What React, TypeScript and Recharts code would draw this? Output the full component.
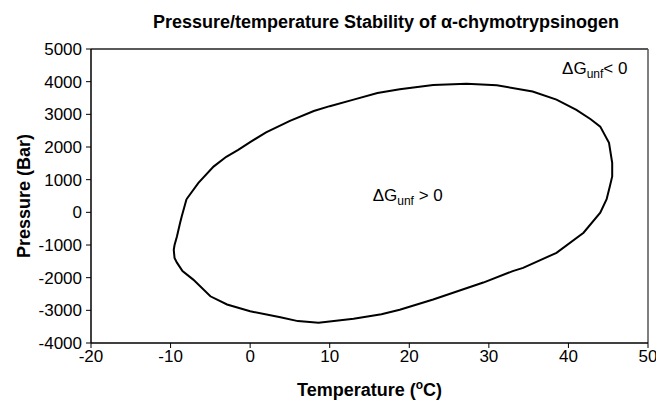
import { LineChart, Line, XAxis, YAxis, ReferenceLine, ReferenceDot } from 'recharts';

// stability boundary, traced clockwise from the corner on the left
const temperature = [
  -8.0, -6.5, -4.6, -3.0, -1.5, 0, 2, 5, 8, 10, 13, 16, 18.8, 23, 27.2, 31, 35.5, 38.5, 41, 42.8, 44,
  45.1, 45.5, 45.5, 45.2, 44.8, 44, 41.9, 38.5, 34.3, 33, 29.3, 23, 18.8, 16.5, 13, 8.6, 6, 3.8, 0,
  -2.9, -5, -7.15, -8.5, -9.2, -9.5, -9.6, -9.5, -9.2, -8.8, -8.6, -8.0,
];
const pressure = [
  400, 900, 1400, 1700, 1910, 2150, 2450, 2800, 3100, 3250, 3450, 3650, 3770, 3900, 3940, 3890, 3700,
  3450, 3135, 2850, 2625, 2130, 1516, 1100, 790, 400, -10, -625, -1240, -1700, -1800, -2150, -2670,
  -2980, -3120, -3260, -3380, -3330, -3210, -3030, -2820, -2570, -2060, -1800, -1540, -1400, -1150,
  -1000, -740, -320, -125, 400,
];
const xTicks = [-20, -10, 0, 10, 20, 30, 40, 50];
const yTicks = [-4000, -3000, -2000, -1000, 0, 1000, 2000, 3000, 4000, 5000];

const stableNote = { t: 15.4, p: 540, sign: '> 0' };
const unstableNote = { t: 39.2, p: 4420, sign: '< 0' };

const data = temperature.map((t, i) => ({ t, p: pressure[i] }));

const font = '"Liberation Sans", Arial, sans-serif';

const deltaG = (sign: string, gap: string) => (props: any) => {
  const { x, y } = props.viewBox;
  return (
    <text x={x} y={y + 6} fontFamily={font} fontSize={17} fill="#000">
      ΔG
      <tspan fontSize={12} dy={4}>unf</tspan>
      <tspan dy={-4}>{gap}{sign}</tspan>
    </text>
  );
};

const XTitle = (props: any) => {
  const { x, y, width } = props.viewBox;
  return (
    <text x={x + width / 2} y={y + 53} textAnchor="middle" fontFamily={font} fontSize={18} fontWeight="bold">
      Temperature (<tspan fontSize={12} dy={-7}>o</tspan><tspan dy={7}>C)</tspan>
    </text>
  );
};

const YTitle = (props: any) => {
  const { x, y, height } = props.viewBox;
  const cx = x - 1;
  const cy = y + height / 2;
  return (
    <text x={cx} y={cy} transform={`rotate(-90 ${cx} ${cy})`} textAnchor="middle" fontFamily={font} fontSize={18} fontWeight="bold">
      Pressure (Bar)
    </text>
  );
};

export default function App() {
  return (
    <div style={{ position: 'absolute', left: 0, top: 0, width: 656, height: 403, background: '#fff' }}>
      <div
        style={{
          position: 'absolute', left: 86, width: 600, top: 12, textAlign: 'center',
          fontFamily: font, fontWeight: 'bold', fontSize: 18,
        }}
      >
        Pressure/temperature Stability of α-chymotrypsinogen
      </div>
      <LineChart width={656} height={403} data={data} margin={{ top: 49, right: 8, left: 31, bottom: 30 }}>
        <XAxis
          dataKey="t"
          type="number"
          domain={[-20, 50]}
          ticks={xTicks}
          interval={0}
          axisLine={{ stroke: '#000', strokeWidth: 1.5 }}
          tickLine={{ stroke: '#000' }}
          tickSize={5}
          tick={{ fill: '#000', fontSize: 17, fontFamily: font }}
          height={30}
          label={<XTitle />}
        />
        <YAxis
          dataKey="p"
          type="number"
          domain={[-4000, 5000]}
          ticks={yTicks}
          interval={0}
          axisLine={{ stroke: '#000', strokeWidth: 1.5 }}
          tickLine={{ stroke: '#000' }}
          tickSize={5}
          tickMargin={4}
          tick={{ fill: '#000', fontSize: 17, fontFamily: font }}
          width={60}
          label={<YTitle />}
        />
        <ReferenceLine y={5000} stroke="#222" strokeWidth={1.5} />
        <ReferenceLine x={50} stroke="#555" strokeWidth={1.5} />
        <Line
          dataKey="p"
          type="linear"
          stroke="#000"
          strokeWidth={2}
          dot={false}
          isAnimationActive={false}
        />
        <ReferenceDot x={stableNote.t} y={stableNote.p} r={0} stroke="none" label={deltaG(stableNote.sign, ' ')} />
        <ReferenceDot x={unstableNote.t} y={unstableNote.p} r={0} stroke="none" label={deltaG(unstableNote.sign, '')} />
      </LineChart>
    </div>
  );
}
